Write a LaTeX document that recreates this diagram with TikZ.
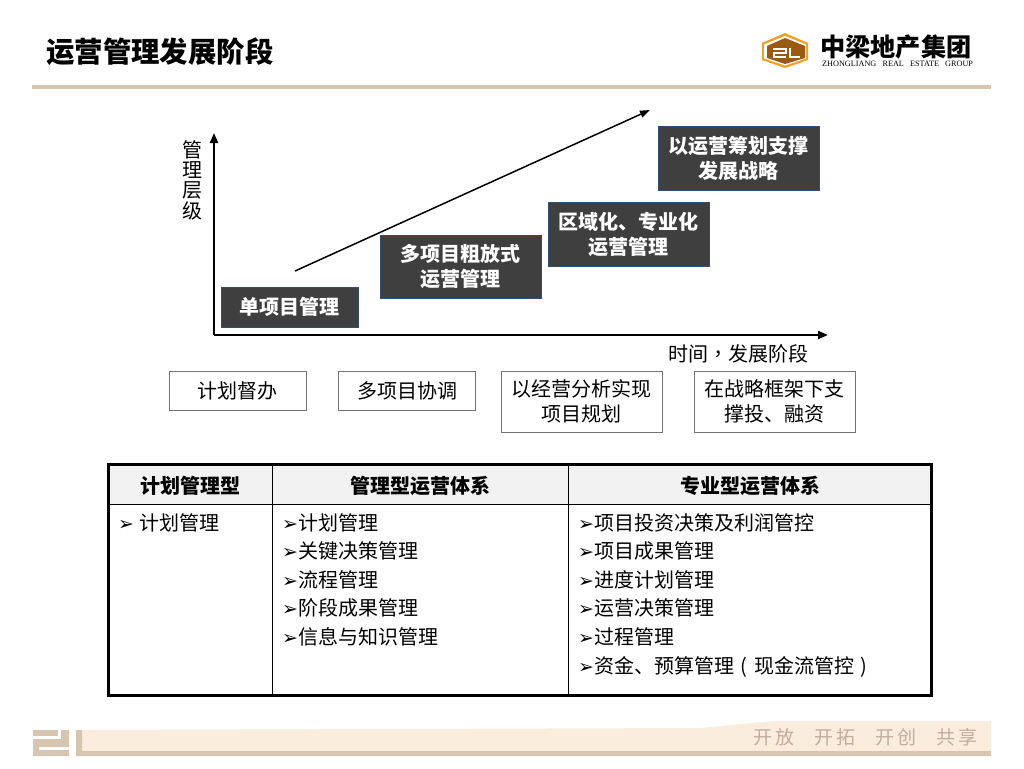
\documentclass[tikz,border=0pt]{standalone}
\usepackage{fontspec}
\setmainfont{Noto Sans CJK SC}
\newfontfamily\bulletfont{DejaVu Sans}
\newfontfamily\latinfont{Liberation Serif}
\newfontfamily\puncfont{Noto Sans CJK TC}
\usetikzlibrary{arrows.meta}
\definecolor{ruletan}{HTML}{D6C6AF}
\definecolor{bandcream}{HTML}{FAEDDD}
\definecolor{stagedark}{HTML}{3F3F3F}
\definecolor{stageedge}{HTML}{2F5070}
\definecolor{logobrown}{HTML}{9A5A12}
\definecolor{logoorange}{HTML}{F0A020}
\definecolor{mottotan}{HTML}{C2AD9B}
\newcommand{\bul}{{\bulletfont\fontsize{19}{19}\selectfont ➢}}
\newcommand{\midparen}[1]{\makebox[20pt][c]{#1}}
\tikzset{
  stagebox/.style={draw=stageedge,fill=stagedark,text=white,font=\fontsize{20}{25}\selectfont\bfseries,align=center,inner sep=0pt,minimum height=#1},
  stagebox/.default=63,
  taskbox/.style={draw=black!55,line width=0.8pt,fill=white,font=\fontsize{20}{25}\selectfont,align=center,inner sep=0pt},
  headtext/.style={font=\fontsize{20}{24}\selectfont\bfseries},
  listtext/.style={font=\fontsize{20}{28.6}\selectfont,align=left,anchor=north west,inner sep=0pt},
  axisline/.style={line width=2.2pt,-{Triangle[length=10pt,width=8pt]}},
  logostroke/.style={draw=white,line width=1.8pt},
}
\begin{document}
\begin{tikzpicture}[x=1pt,y=-1pt]
\useasboundingbox (0,0) rectangle (1024,768);
\fill[white] (0,0) rectangle (1024,768);

\node[anchor=west,inner sep=0pt,font=\fontsize{28.4}{28.4}\selectfont\bfseries] (title) at (46,52) {运营管理发展阶段};
\fill[ruletan] (32,85) rectangle (991,89);

\fill[logoorange] (785,33) -- (808,43) -- (808,60) -- (785,68) -- (762,60) -- (762,43) -- cycle;
\fill[white] (785,36) -- (806,44.5) -- (806,58.5) -- (785,65.5) -- (764,58.5) -- (764,44.5) -- cycle;
\fill[logobrown] (785,38) -- (805,46) -- (805,58) -- (785,64) -- (767,58) -- (767,46) -- cycle;
\draw[logostroke] (773,49) -- (786,49) -- (786,53) -- (774,53) -- (774,57) -- (786,57);
\draw[logostroke] (790,48) -- (790,57) -- (800,57);
\node[anchor=west,inner sep=0pt,font=\fontsize{25.2}{25.2}\selectfont\bfseries] (logoname) at (820,47) {中梁地产集团};
\node[anchor=west,inner sep=0pt,font=\latinfont\fontsize{8.2}{8.2}\selectfont] (logoeng) at (822,64) {ZHONGLIANG\ \ \ REAL\ \ \ ESTATE\ \ \ GROUP};

\coordinate (origin) at (214,335);
\coordinate (yend) at (214,133);
\coordinate (xend) at (828,335);
\coordinate (risefrom) at (295,271);
\coordinate (riseto) at (650,110);
\draw[axisline] (origin) -- (yend);
\draw[axisline] (origin) -- (xend);
\draw[line width=1.5pt,-{Triangle[length=10pt,width=7pt]}] (risefrom) -- (riseto);

\node[inner sep=0pt,align=center,font=\fontsize{20}{20.3}\selectfont] (ylabel) at (192,180) {管\\理\\层\\级};
\node[inner sep=0pt,font=\fontsize{20}{20}\selectfont] (xlabel) at (738,354) {时间{\puncfont ，}发展阶段};

\node[stagebox=40,minimum width=137] (stageone) at (289.5,307) {单项目管理};
\node[stagebox,minimum width=161] (stagetwo) at (460.3,266.5) {多项目粗放式\\运营管理};
\node[stagebox=64,minimum width=161] (stagethree) at (628.3,234) {区域化、专业化\\运营管理};
\node[stagebox=64,minimum width=161] (stagefour) at (738.4,158) {以运营筹划支撑\\发展战略};

\node[taskbox,minimum width=137,minimum height=39] (taskone) at (237.5,390.5) {计划督办};
\node[taskbox,minimum width=137,minimum height=39] (tasktwo) at (407.3,390.5) {多项目协调};
\node[taskbox,minimum width=161,minimum height=61] (taskthree) at (581.4,401.5) {以经营分析实现\\项目规划};
\node[taskbox,minimum width=161,minimum height=61] (taskfour) at (774.4,401.5) {在战略框架下支\\撑投、融资};

\fill[black!5] (108,464) rectangle (931,504);
\draw[line width=1pt] (108,504) -- (931,504);
\draw[line width=1pt] (272,464) -- (272,695);
\draw[line width=1pt] (568,464) -- (568,695);
\draw[line width=3pt] (108,464) rectangle (931,695);

\node[headtext] (headone) at (190,485.6) {计划管理型};
\node[headtext] (headtwo) at (420.5,485.6) {管理型运营体系};
\node[headtext] (headthree) at (750,485.6) {专业型运营体系};

\node[listtext] (listone) at (118,513) {\bul\hspace{5pt}计划管理};
\node[listtext] (listtwo) at (282,513) {\bul 计划管理\\\bul 关键决策管理\\\bul 流程管理\\\bul 阶段成果管理\\\bul 信息与知识管理};
\node[listtext] (listthree) at (578,513) {\bul 项目投资决策及利润管控\\\bul 项目成果管理\\\bul 进度计划管理\\\bul 运营决策管理\\\bul 过程管理\\\bul 资金、预算管理\midparen{(}现金流管控\midparen{)}};

\fill[bandcream] (82,730) -- (700,728) -- (775,721) -- (991,721) -- (991,751) -- (82,751) -- cycle;
\fill[ruletan] (76,730) -- (82,730) -- (82,751) -- (991,751) -- (991,756) -- (76,756) -- cycle;
\fill[ruletan] (33,730) rectangle (58,736);
\fill[ruletan] (61,730) -- (69,730) -- (69,747) -- (39,747) -- (39,750) -- (69,750) -- (69,756) -- (33,756) -- (33,739) -- (61,739) -- cycle;
\node[anchor=east,inner sep=0pt,text=mottotan,font=\fontsize{19}{19}\selectfont] (motto) at (978,737) {开\hspace{3pt}放\hspace{20pt}开\hspace{3pt}拓\hspace{20pt}开\hspace{3pt}创\hspace{20pt}共\hspace{3pt}享};
\end{tikzpicture}
\end{document}
